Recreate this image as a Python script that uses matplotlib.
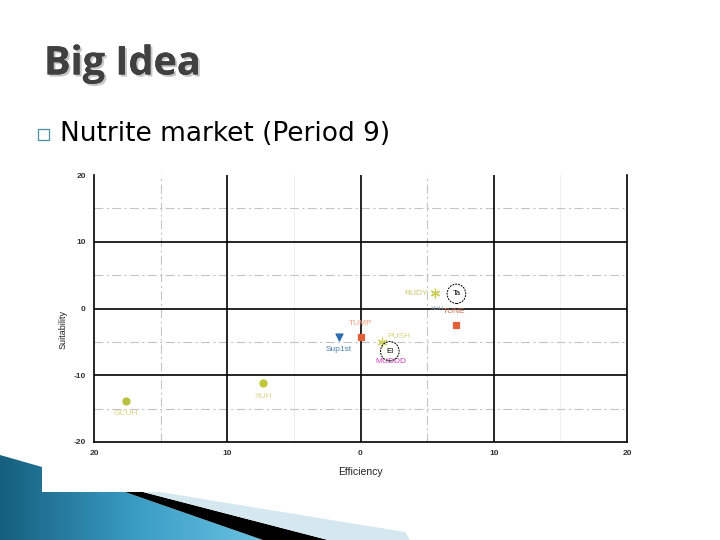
import numpy as np
import matplotlib.pyplot as plt
import matplotlib.patheffects as pe
from matplotlib.patches import Polygon, Rectangle, Ellipse
from matplotlib.colors import LinearSegmentedColormap

# market map, period 9
names = ['RUDY', 'TUNE', 'TUMP', 'Sup1st', 'PUSH', 'XUH', 'GCUH']
eff = [5.6, 7.2, 0.0, -1.6, 1.6, -7.3, -17.6]
suit = [2.3, -2.5, -4.2, -4.2, -5.0, -11.2, -13.8]
markers = [(6, 2, 0), 's', 's', 'v', (6, 2, 0), 'o', 'o']
mcolors = ['#c8cc50', '#e2603a', '#e2603a', '#2f6cae', '#d2d460', '#c0c838', '#b8c040']
lcolors = ['#c8c870', '#c87050', '#f0a080', '#4f7fb0', '#d6d680', '#d8d890', '#d6d680']
# label offsets (points) and alignment
loff = [(-5, 0), (-2, 7), (0, 7), (0, -7), (4, 1), (0, -7), (0, -7)]
lha = ['right', 'center', 'center', 'center', 'left', 'center', 'center']

# unlabeled text / circled symbols
circ_text = ['Ta', 'EI']
circ_x = [7.2, 2.2]
circ_y = [2.2, -6.4]
extra_text = ['XUH', 'MUDDD']
extra_x = [5.8, 2.3]
extra_y = [0.0, -7.9]
extra_col = ['#8898a8', '#d040c0']

fig = plt.figure(figsize=(7.2, 5.4), dpi=100)

# slide background / decoration in pixel coords
bg = fig.add_axes([0, 0, 1, 1], zorder=0)
bg.set_xlim(0, 720)
bg.set_ylim(540, 0)
bg.axis('off')

cmap = LinearSegmentedColormap.from_list('sl', ['#155f7e', '#3a9cc4', '#6cc4e4'])
grad = np.tile(np.linspace(0, 1, 256), (20, 1))
blue = Polygon([(0, 455), (42, 467), (42, 492), (125, 492), (263, 540), (0, 540)],
               closed=True, fc='none', ec='none')
bg.add_patch(blue)
im = bg.imshow(grad, cmap=cmap, extent=(0, 270, 540, 450), aspect='auto')
im.set_clip_path(blue)
bg.add_patch(Polygon([(125, 492), (143, 492), (328, 540), (263, 540)], closed=True,
                     fc='black', ec='none'))
bg.add_patch(Polygon([(143, 492), (160, 492), (405, 532), (410, 540), (328, 540)],
                     closed=True, fc='#d6e8ef', ec='none'))
bg.add_patch(Rectangle((42, 455), 130, 37, fc='white', ec='none'))

# title + bullet
bg.text(44, 64, 'Big Idea', fontsize=28.5, fontweight='bold', color='#404040',
        family='Open Sans', va='center', ha='left',
        path_effects=[pe.withSimplePatchShadow(offset=(1.5, -1.5), shadow_rgbFace='#c8c8c8',
                                               alpha=1.0), pe.Normal()])
bg.add_patch(Rectangle((38, 129), 11, 11, fc='white', ec='#4a8fa0', lw=0.9))
bg.text(60, 134, 'Nutrite market (Period 9)', fontsize=19, color='black',
        family='DejaVu Sans', va='center', ha='left')

# chart
ax = fig.add_axes([94 / 720, 98 / 540, 533 / 720, 267 / 540], zorder=1)
ax.set_xlim(-20, 20)
ax.set_ylim(-20, 20)
ax.patch.set_alpha(0)

for v in [-5, 15]:
    ax.axvline(v, color='#f0f0f0', lw=0.8, zorder=1)
for v in [-15, 5]:
    ax.axvline(v, color='#c4c4c4', lw=0.8, ls=(0, (8, 3, 2, 3)), zorder=1)
for v in [-15, -5, 5, 15]:
    ax.axhline(v, color='#c4c4c4', lw=0.8, ls=(0, (8, 3, 2, 3)), zorder=1)
for v in [-10, 0, 10]:
    ax.axvline(v, color='black', lw=1.2, zorder=2)
    ax.axhline(v, color='black', lw=1.2, zorder=2)

ax.spines['top'].set_visible(False)
for s in ['left', 'right', 'bottom']:
    ax.spines[s].set_linewidth(1.2)

ticks = [-20, -10, 0, 10, 20]
ax.set_xticks(ticks)
ax.set_xticklabels([str(abs(t)) for t in ticks])
ax.set_yticks(ticks)
ax.set_yticklabels([str(t) for t in ticks])
ax.tick_params(length=0, labelsize=6, pad=6)
for lab in ax.get_xticklabels() + ax.get_yticklabels():
    lab.set_family('Liberation Sans')
    lab.set_fontweight('bold')
    lab.set_color('#333333')
ax.set_xlabel('Efficiency', fontsize=7.5, family='Liberation Sans', color='#222222')
ax.xaxis.set_label_coords(0.5, -0.095)
ax.set_ylabel('Suitability', fontsize=6.5, family='Liberation Sans', color='#222222')
ax.yaxis.set_label_coords(-0.05, 0.42)

for i in range(len(names)):
    sz = 40 if markers[i] == (6, 2, 0) else 25
    ax.scatter(eff[i], suit[i], marker=markers[i], s=sz,
               color=mcolors[i], linewidths=0.9, zorder=4)
    va = 'center'
    if loff[i][1] > 0:
        va = 'bottom'
    elif loff[i][1] < 0:
        va = 'top'
    ax.annotate(names[i], (eff[i], suit[i]), xytext=loff[i], textcoords='offset points',
                ha=lha[i], va=va, fontsize=6, color=lcolors[i],
                family='Liberation Sans', zorder=5)

for i in range(len(extra_text)):
    ax.text(extra_x[i], extra_y[i], extra_text[i], fontsize=6 if i else 4.5,
            color=extra_col[i], ha='center', va='center',
            family='Liberation Sans', zorder=5)

for i in range(len(circ_text)):
    ax.add_patch(Ellipse((circ_x[i], circ_y[i]), 1.4, 2.9, fill=False, ec='black',
                         lw=0.7, ls=(0, (2, 1)), zorder=5))
    ax.text(circ_x[i], circ_y[i], circ_text[i], fontsize=5.5, ha='center',
            va='center', family='Liberation Sans', zorder=5)

fig.savefig('out.png', dpi=100)
